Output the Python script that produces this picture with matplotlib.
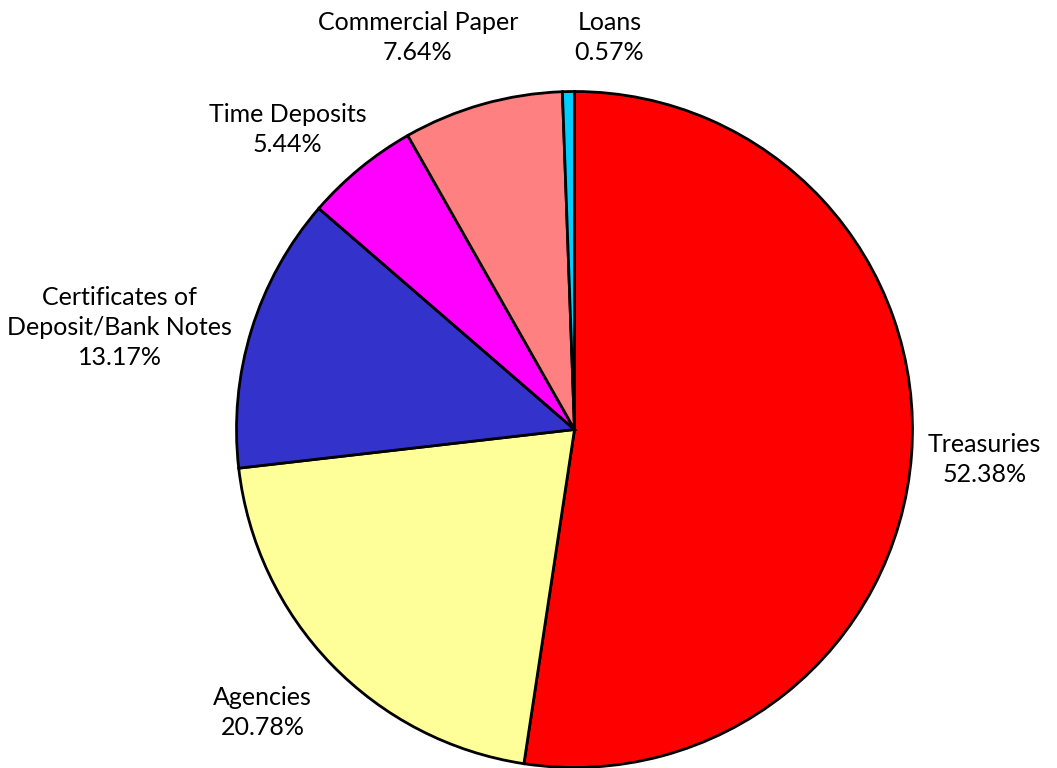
import matplotlib
matplotlib.use("Agg")
import matplotlib.pyplot as plt
import numpy as np

categories = ["Treasuries", "Agencies", "Certificates of\nDeposit/Bank Notes",
              "Time Deposits", "Commercial Paper", "Loans"]
values = [52.38, 20.78, 13.17, 5.44, 7.64, 0.57]
colors = ["#FF0000", "#FFFF99", "#3333CC", "#FF00FF", "#FF8080", "#00CCFF"]
# label layout (angle in degrees, distance in radius units)
label_pos = [(-4.2, 1.216), (-137.8, 1.246), (167.4, 1.379),
             (133.7, 1.229), (111.8, 1.249), (84.9, 1.165)]

plt.rcParams['font.family'] = ['Lato', 'DejaVu Sans']

fig = plt.figure(figsize=(10.57, 7.68), dpi=100)
cx, cy, r = 574.5 / 1057, 1 - 429.5 / 768, 338
ax = fig.add_axes([cx - r / 1057, cy - r / 768, 2 * r / 1057, 2 * r / 768])
ax.pie(values, colors=colors, startangle=90, counterclock=False,
       wedgeprops=dict(edgecolor="black", linewidth=2), radius=1)
ax.set_xlim(-1, 1)
ax.set_ylim(-1, 1)
ax.set_aspect("auto")
ax.axis("off")
ax.set_clip_on(False)

for cat, v, (ang, d) in zip(categories, values, label_pos):
    a = np.deg2rad(ang)
    ax.text(d * np.cos(a), d * np.sin(a), f"{cat}\n{v:.2f}%", ha="center", va="center",
            fontsize=18, linespacing=1.36, color="black", clip_on=False)

fig.savefig("out.png", dpi=100)
